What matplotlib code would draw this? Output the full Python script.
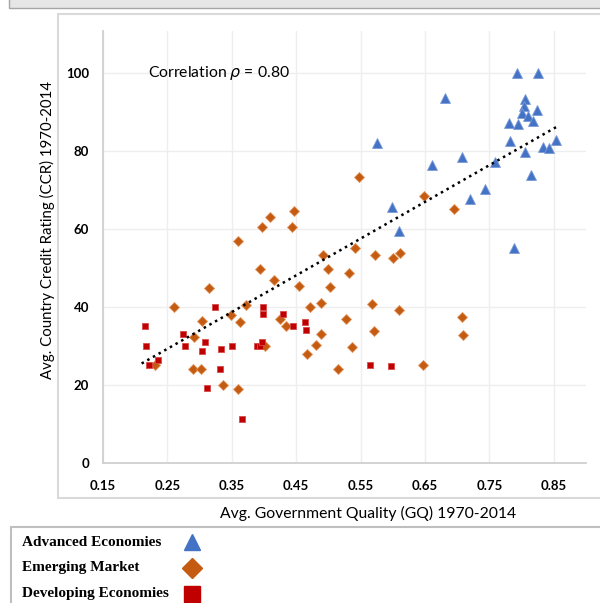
import numpy as np
import matplotlib
matplotlib.use("Agg")
import matplotlib.pyplot as plt
from matplotlib.patches import Rectangle
from matplotlib.lines import Line2D

# --- data --------------------------------------------------------------------
adv_gq = [0.793, 0.825, 0.681, 0.806, 0.803, 0.824, 0.801, 0.810, 0.818, 0.780,
          0.795, 0.575, 0.782, 0.854, 0.834, 0.843, 0.806, 0.708, 0.758, 0.661,
          0.815, 0.743, 0.720, 0.598, 0.610, 0.788]
adv_ccr = [100.0, 100.0, 93.5, 93.3, 91.6, 90.4, 89.7, 88.8, 87.7, 87.2,
           86.8, 82.0, 82.5, 82.7, 80.9, 80.6, 79.7, 78.3, 77.2, 76.3,
           73.8, 70.2, 67.6, 65.7, 59.4, 55.2]

emg_gq = [0.359, 0.397, 0.409, 0.447, 0.444, 0.492, 0.548, 0.649, 0.695, 0.541,
          0.572, 0.601, 0.611, 0.394, 0.500, 0.416, 0.315, 0.455, 0.503, 0.261,
          0.372, 0.489, 0.471, 0.349, 0.303, 0.363, 0.425, 0.434, 0.291, 0.488,
          0.402, 0.481, 0.467, 0.290, 0.302, 0.515, 0.231, 0.337, 0.360, 0.532,
          0.568, 0.609, 0.708, 0.527, 0.571, 0.709, 0.536, 0.647]
emg_ccr = [56.8, 60.4, 63.0, 64.6, 60.4, 53.3, 73.3, 68.3, 65.2, 55.2,
           53.2, 52.5, 53.8, 49.6, 49.8, 46.8, 44.9, 45.3, 45.1, 40.0,
           40.6, 40.9, 40.0, 37.9, 36.4, 36.1, 36.9, 35.1, 32.2, 33.1,
           30.0, 30.2, 27.9, 24.2, 24.0, 24.1, 25.0, 19.9, 19.0, 48.6,
           40.8, 39.2, 37.5, 36.8, 33.8, 32.7, 29.7, 25.0]

dev_gq = [0.215, 0.216, 0.221, 0.236, 0.274, 0.278, 0.309, 0.304, 0.311, 0.324,
          0.333, 0.331, 0.350, 0.366, 0.389, 0.394, 0.397, 0.399, 0.399, 0.430,
          0.445, 0.463, 0.465, 0.565, 0.597]
dev_ccr = [35.1, 30.0, 25.0, 26.5, 33.1, 30.0, 30.9, 28.7, 19.2, 40.0,
           29.1, 24.2, 30.0, 11.2, 30.0, 30.0, 30.9, 40.0, 38.1, 38.1,
           35.1, 36.1, 34.0, 25.0, 24.8]

# Excel linear trendline, end points
trend_gq = [0.210, 0.855]
trend_ccr = [25.5, 86.2]

groups = ["Advanced Economies", "Emerging Market", "Developing Economies"]
x_ticks = [0.15, 0.25, 0.35, 0.45, 0.55, 0.65, 0.75, 0.85]
y_ticks = [0, 20, 40, 60, 80, 100]
corr_text = r"Correlation $\rho$ = 0.80"

colors = ["#4472C4", "#C55A11", "#C00000"]
edges = ["#7a9bd8", "#e0955f", "#d84a4a"]
markers = ["^", "D", "s"]
msizes = [7.8, 5.0, 4.6]
leg_sizes = [12, 10, 11]

plt.rcParams["font.family"] = ["Lato", "DejaVu Sans"]
plt.rcParams["mathtext.fontset"] = "dejavusans"

W, H = 600, 603
fig = plt.figure(figsize=(W / 100, H / 100), dpi=100)


def fx(px):
    return px / W


def fy(py):
    return 1 - py / H


# frame decorations (pixel positions)
fig.patches.append(Rectangle((fx(9), fy(8)), fx(600), 8 / H + 0.01, transform=fig.transFigure,
                             facecolor="#e7e6e6", edgecolor="#a6a6a6", lw=1.0, zorder=-5))
fig.patches.append(Rectangle((fx(58), fy(498)), fx(560), (498 - 14) / H, transform=fig.transFigure,
                             facecolor="white", edgecolor="#d9d9d9", lw=1.5, zorder=-5))
fig.patches.append(Rectangle((fx(11), fy(620)), fx(600), (620 - 527) / H, transform=fig.transFigure,
                             facecolor="white", edgecolor="#bfbfbf", lw=1.5, zorder=-5))

ax = fig.add_axes([fx(103), fy(463), fx(586 - 103), (463 - 31) / H])
ax.set_facecolor("none")

series = [(adv_gq, adv_ccr), (emg_gq, emg_ccr), (dev_gq, dev_ccr)]
for (gx, gy), c, e, m, s in zip(series, colors, edges, markers, msizes):
    ax.plot(gx, gy, ls="none", marker=m, ms=s, mfc=c, mec=e, mew=0.6, zorder=3)

ax.plot(trend_gq, trend_ccr, ls=(0, (1, 1.6)), color="black", lw=1.8, zorder=4)

ax.set_xlim(0.15, 0.90)
ax.set_ylim(0, 110.7)
ax.set_xticks(x_ticks)
ax.set_xticklabels([f"{v:.2f}" for v in x_ticks])
ax.set_yticks(y_ticks)
ax.tick_params(length=0, labelsize=9.5, colors="black")
ax.tick_params(axis="x", pad=12)
ax.tick_params(axis="y", pad=10)
for lab in ax.get_xticklabels() + ax.get_yticklabels():
    lab.set_fontweight("bold")
ax.grid(True, color="#eeeeee", lw=1.0)
ax.set_axisbelow(True)
for sp in ["top", "right"]:
    ax.spines[sp].set_visible(False)
for sp in ["left", "bottom"]:
    ax.spines[sp].set_color("#d0d0d0")
    ax.spines[sp].set_linewidth(1.3)

ax.text(0.22, 100, corr_text, fontsize=11.3, va="center", ha="left")

fig.text(fx(368), fy(513), "Avg. Government Quality (GQ) 1970-2014", fontsize=11.3,
         ha="center", va="center", color="black")
fig.text(fx(47), fy(230), "Avg. Country Credit Rating (CCR) 1970-2014", fontsize=10.8,
         ha="center", va="center", rotation=90, color="black")

# legend box entries
for i, (name, c, m) in enumerate(zip(groups, colors, markers)):
    yy = 542 + 26 * i
    fig.text(fx(22), fy(yy), name, fontsize=11, fontweight="bold",
             family="Liberation Serif", ha="left", va="center")
    fig.lines.append(Line2D([fx(192)], [fy(yy)], transform=fig.transFigure, ls="none",
                            marker=m, ms=leg_sizes[i], mfc=c, mec=c))

fig.savefig("out.png", dpi=100)
